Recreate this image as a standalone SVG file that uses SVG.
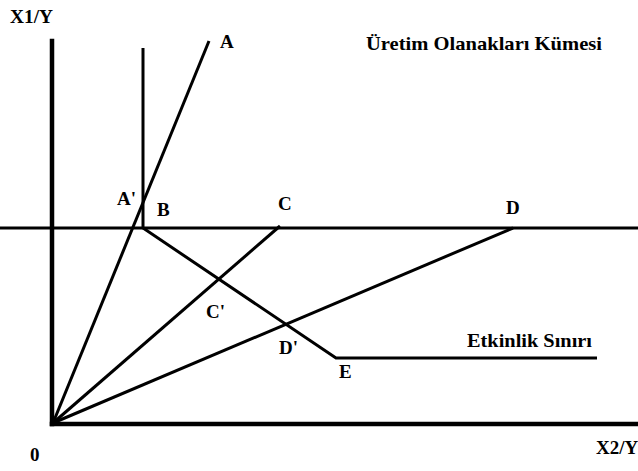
<svg xmlns="http://www.w3.org/2000/svg" width="638" height="471" viewBox="0 0 638 471">
<style>
.t{font-family:"Liberation Serif","Times New Roman",serif;font-weight:bold;font-size:19px;fill:#000}
.ax{stroke:#000;stroke-width:4.5;fill:none;stroke-linecap:square}
.ln{stroke:#000;stroke-width:3;fill:none;stroke-linejoin:miter}
</style>
<rect width="638" height="471" fill="#fff"/>
<g id="connectors">
<line class="ax" x1="52" y1="41" x2="52" y2="424"/>
<line class="ax" x1="52" y1="424" x2="640" y2="424"/>
<line class="ln" x1="0" y1="228" x2="638" y2="228"/>
<polyline class="ln" points="143,48 143,228 336,358 597,358"/>
<line class="ln" x1="53" y1="423" x2="209" y2="41"/>
<line class="ln" x1="53" y1="423" x2="280" y2="226"/>
<line class="ln" x1="53" y1="423" x2="513" y2="228"/>
</g>
<g id="axis-labels">
<text class="t" x="10" y="23" textLength="43" lengthAdjust="spacingAndGlyphs">X1/Y</text>
<text class="t" x="30" y="461">0</text>
<text class="t" x="596" y="454">X2/Y</text>
</g>
<g id="point-labels">
<text class="t" x="220" y="48">A</text>
<text class="t" x="117" y="205">A'</text>
<text class="t" x="157" y="216">B</text>
<text class="t" x="278" y="210">C</text>
<text class="t" x="206" y="318">C'</text>
<text class="t" x="506" y="214">D</text>
<text class="t" x="279" y="354">D'</text>
<text class="t" x="339" y="378">E</text>
</g>
<g id="region-labels">
<text class="t" x="366" y="50" textLength="236" lengthAdjust="spacingAndGlyphs">Üretim Olanakları Kümesi</text>
<text class="t" x="467" y="347" textLength="125" lengthAdjust="spacingAndGlyphs">Etkinlik Sınırı</text>
</g>
</svg>
